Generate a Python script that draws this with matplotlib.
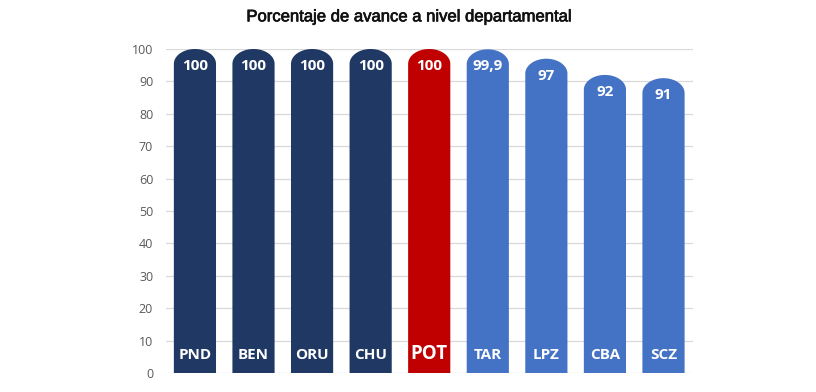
import numpy as np
import matplotlib
matplotlib.use("Agg")
import matplotlib.pyplot as plt
from matplotlib.path import Path
from matplotlib.patches import PathPatch
import matplotlib.patheffects as pe

categories = ["PND", "BEN", "ORU", "CHU", "POT", "TAR", "LPZ", "CBA", "SCZ"]
values = [100, 100, 100, 100, 100, 99.9, 97, 92, 91]
value_labels = ["100", "100", "100", "100", "100", "99,9", "97", "92", "91"]
colors = ["#1F3864"] * 4 + ["#C00000"] + ["#4472C4"] * 4
yticks = list(range(0, 101, 10))

fig = plt.figure(figsize=(8.16, 3.92), dpi=100)
ax = fig.add_axes([0.203, 0.0485, 0.646, 0.8265])
ax.set_xlim(-0.5, len(categories) - 0.5)
ax.set_ylim(0, 100)

width = 0.72
cap = 4.6  # rounded cap height in data units
for i, (v, c) in enumerate(zip(values, colors)):
    hw = width / 2
    t = np.linspace(0, np.pi, 60)
    xs = [i - hw, i - hw] + list(i - hw * np.cos(t)) + [i + hw, i - hw]
    ys = [0, v - cap] + list(v - cap + cap * np.sin(t)) + [0, 0]
    verts = list(zip(xs, ys))
    codes = [Path.MOVETO] + [Path.LINETO] * (len(verts) - 2) + [Path.CLOSEPOLY]
    ax.add_patch(PathPatch(Path(verts, codes), facecolor=c, edgecolor="none", zorder=3))

for i, (cat, lab, v) in enumerate(zip(categories, value_labels, values)):
    if cat == "POT":
        ax.text(i, 5.9, cat, ha="center", va="center", color="white",
                fontsize=13.5, family="Open Sans", fontweight="bold", zorder=4)
    else:
        ax.text(i, 5.5, cat, ha="center", va="center", color="white",
                fontsize=11, family="Open Sans", fontweight="bold", zorder=4)
    ax.text(i, v - 5.3, lab, ha="center", va="center", color="white",
            fontsize=11, family="Open Sans", fontweight="bold", zorder=4)

ax.set_yticks(yticks)
ax.set_yticklabels([str(y) for y in yticks], color="#595959", fontsize=9, family="Open Sans")
ax.set_xticks([])
ax.tick_params(axis="y", length=0, pad=9)
for s in ax.spines.values():
    s.set_visible(False)
ax.grid(axis="y", color="#D9D9D9", linewidth=0.9, zorder=0)
ax.set_axisbelow(True)

fig.text(0.502, 0.957, "Porcentaje de avance a nivel departamental", ha="center", va="center",
         fontsize=12, family="Liberation Sans", color="#111111",
         path_effects=[pe.withStroke(linewidth=0.5, foreground="#111111")])

fig.savefig("out.png", dpi=100)
